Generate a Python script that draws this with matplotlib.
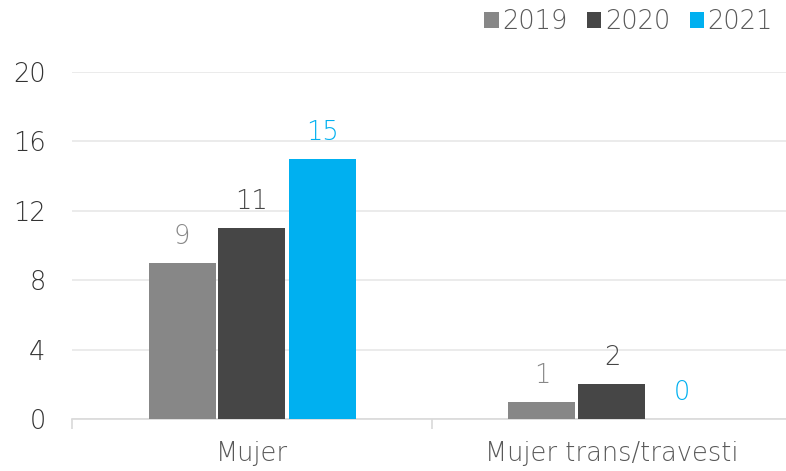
import matplotlib
matplotlib.use("Agg")
import matplotlib.pyplot as plt
import numpy as np

categories = ["Mujer", "Mujer trans/travesti"]
years = ["2019", "2020", "2021"]
values_2019 = [9, 1]
values_2020 = [11, 2]
values_2021 = [15, 0]
yticks = [0, 4, 8, 12, 16, 20]

colors = ["#878787", "#464646", "#00B0F0"]
label_colors = ["#878787", "#464646", "#00B0F0"]

plt.rcParams["font.family"] = ["DejaVu Sans"]
plt.rcParams["font.weight"] = "light"
FS = 18.5

W, H = 786, 471
fig = plt.figure(figsize=(W / 100, H / 100), dpi=100)
ax = fig.add_axes([72 / W, 1 - 419 / H, 720 / W, 347 / H])

series = [values_2019, values_2020, values_2021]
x = np.arange(len(categories))
step = 70 / 360
bw = 67 / 360
for i, (vals, c, lc, yr) in enumerate(zip(series, colors, label_colors, years)):
    pos = x + (i - 1) * step
    ax.bar(pos, vals, width=bw, color=c, label=yr, zorder=3)
    for p, v in zip(pos, vals):
        ax.annotate(str(v), (p, v), xytext=(0, 10), textcoords="offset points",
                    ha="center", va="bottom", color=lc, fontsize=FS)

ax.set_xlim(-0.5, 1.5)
ax.set_ylim(0, 20)
ax.set_yticks(yticks)
ax.set_yticklabels([str(t) for t in yticks], fontsize=FS, color="#333333")
ax.yaxis.grid(True, color="#E8E8E8", linewidth=1.2, zorder=0)
ax.set_axisbelow(True)
ax.tick_params(axis="y", length=0, pad=19)

ax.set_xticks(x)
ax.set_xticklabels(categories, fontsize=FS, color="#595959")
ax.tick_params(axis="x", which="major", length=0, pad=16)
ax.set_xticks([-0.5, 0.5, 1.5], minor=True)
ax.tick_params(axis="x", which="minor", length=7, color="#D9D9D9", width=1.2)

for s in ["top", "right", "left"]:
    ax.spines[s].set_visible(False)
ax.spines["bottom"].set_color("#D9D9D9")
ax.spines["bottom"].set_linewidth(1.2)

leg = fig.legend(loc="upper right", bbox_to_anchor=(796 / W, 1.03), ncol=3, frameon=False,
                 fontsize=FS, handlelength=0.55, handleheight=0.55, handletextpad=0.15,
                 columnspacing=0.75, labelcolor="#595959")

fig.savefig("out.png", dpi=100)
